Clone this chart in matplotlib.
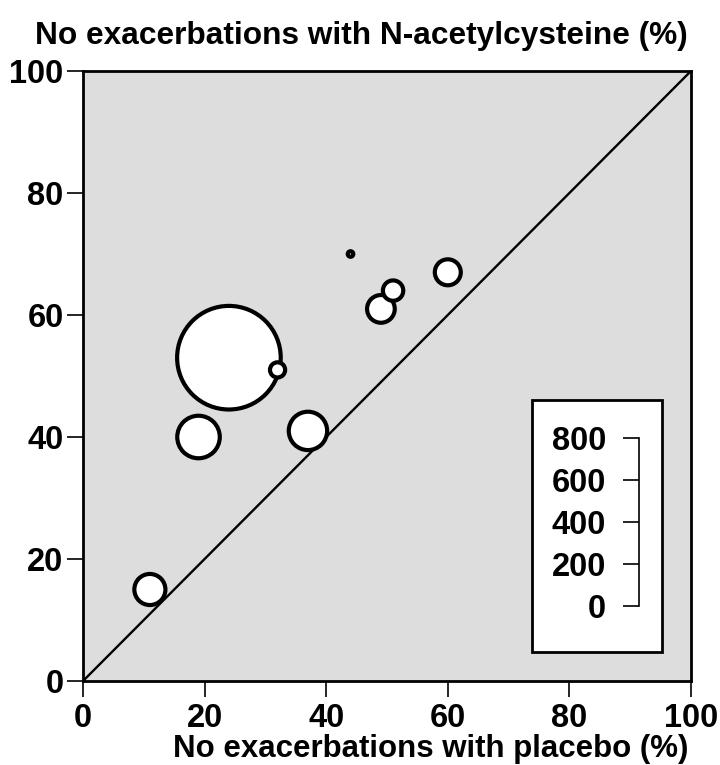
import matplotlib
matplotlib.use("Agg")
import matplotlib.pyplot as plt
from matplotlib.patches import Rectangle
import numpy as np

# ---- data ----
placebo_pct = [11, 19, 24, 32, 37, 44, 49, 51, 60]
nac_pct = [15, 40, 53, 51, 41, 70, 61, 64, 67]
n_patients = [63, 118, 700, 15, 96, 2, 50, 27, 44]
axis_ticks = [0, 20, 40, 60, 80, 100]
scale_ticks = [0, 200, 400, 600, 800]

title_text = "No exacerbations with N-acetylcysteine (%)"
xlabel_text = "No exacerbations with placebo (%)"

plt.rcParams['font.family'] = ['Liberation Sans', 'DejaVu Sans']
plt.rcParams['font.weight'] = 'bold'
FS_TICK = 23.5
FS_TITLE = 22.8
FS_XLAB = 22.5

W, H = 720, 765
fig = plt.figure(figsize=(W / 100, H / 100), dpi=100)

def fx(px):
    return px / W

def fy(py):
    return 1 - py / H

ax_l, ax_r, ax_t, ax_b = 83, 691, 71, 681
ax = fig.add_axes([fx(ax_l), fy(ax_b), fx(ax_r - ax_l), (ax_b - ax_t) / H])
ax.set_facecolor('#dddddd')
ax.set_xlim(0, 100)
ax.set_ylim(0, 100)
for sp in ax.spines.values():
    sp.set_linewidth(2.0)
    sp.set_color('black')

ax.plot([0, 100], [0, 100], color='black', lw=1.7, zorder=2)

order = np.argsort(n_patients)[::-1]
x = np.array(placebo_pct)[order]
y = np.array(nac_pct)[order]
n = np.array(n_patients)[order]
ax.scatter(x, y, s=n * 7.95, facecolor='white', edgecolor='black',
           linewidths=3.0, zorder=3, clip_on=False)

ax.set_xticks(axis_ticks)
ax.set_yticks(axis_ticks)
ax.tick_params(axis='both', direction='out', length=11.5, width=1.2,
               labelsize=FS_TICK, colors='black')
ax.tick_params(axis='x', pad=4)
ax.tick_params(axis='y', pad=2.5)
for lab in ax.get_xticklabels() + ax.get_yticklabels():
    lab.set_fontweight('bold')

fig.text(fx(688), fy(44), title_text, ha='right', va='baseline',
         fontsize=FS_TITLE, fontweight='bold')
fig.text(fx(688), fy(757), xlabel_text, ha='right', va='baseline',
         fontsize=FS_XLAB, fontweight='bold')

# ---- size legend box ----
bx0, bx1, by0, by1 = 532, 662, 400, 652
rect = Rectangle((fx(bx0), fy(by1)), fx(bx1 - bx0), (by1 - by0) / H,
                 transform=fig.transFigure, facecolor='white',
                 edgecolor='black', linewidth=2.0, zorder=5)
fig.patches.append(rect)

sx, sy_top, sy_bot = 639, 438, 606
sax = fig.add_axes([fx(sx), fy(sy_bot), 0.0005, (sy_bot - sy_top) / H])
sax.set_zorder(6)
sax.patch.set_visible(False)
sax.set_ylim(min(scale_ticks), max(scale_ticks))
sax.set_xticks([])
sax.set_yticks(scale_ticks)
for k in ['top', 'right', 'bottom']:
    sax.spines[k].set_visible(False)
sax.spines['left'].set_linewidth(1.2)
sax.tick_params(axis='y', direction='out', length=11.5, width=1.2,
                labelsize=FS_TICK, pad=12)
for lab in sax.get_yticklabels():
    lab.set_fontweight('bold')

fig.savefig('out.png', dpi=100)
